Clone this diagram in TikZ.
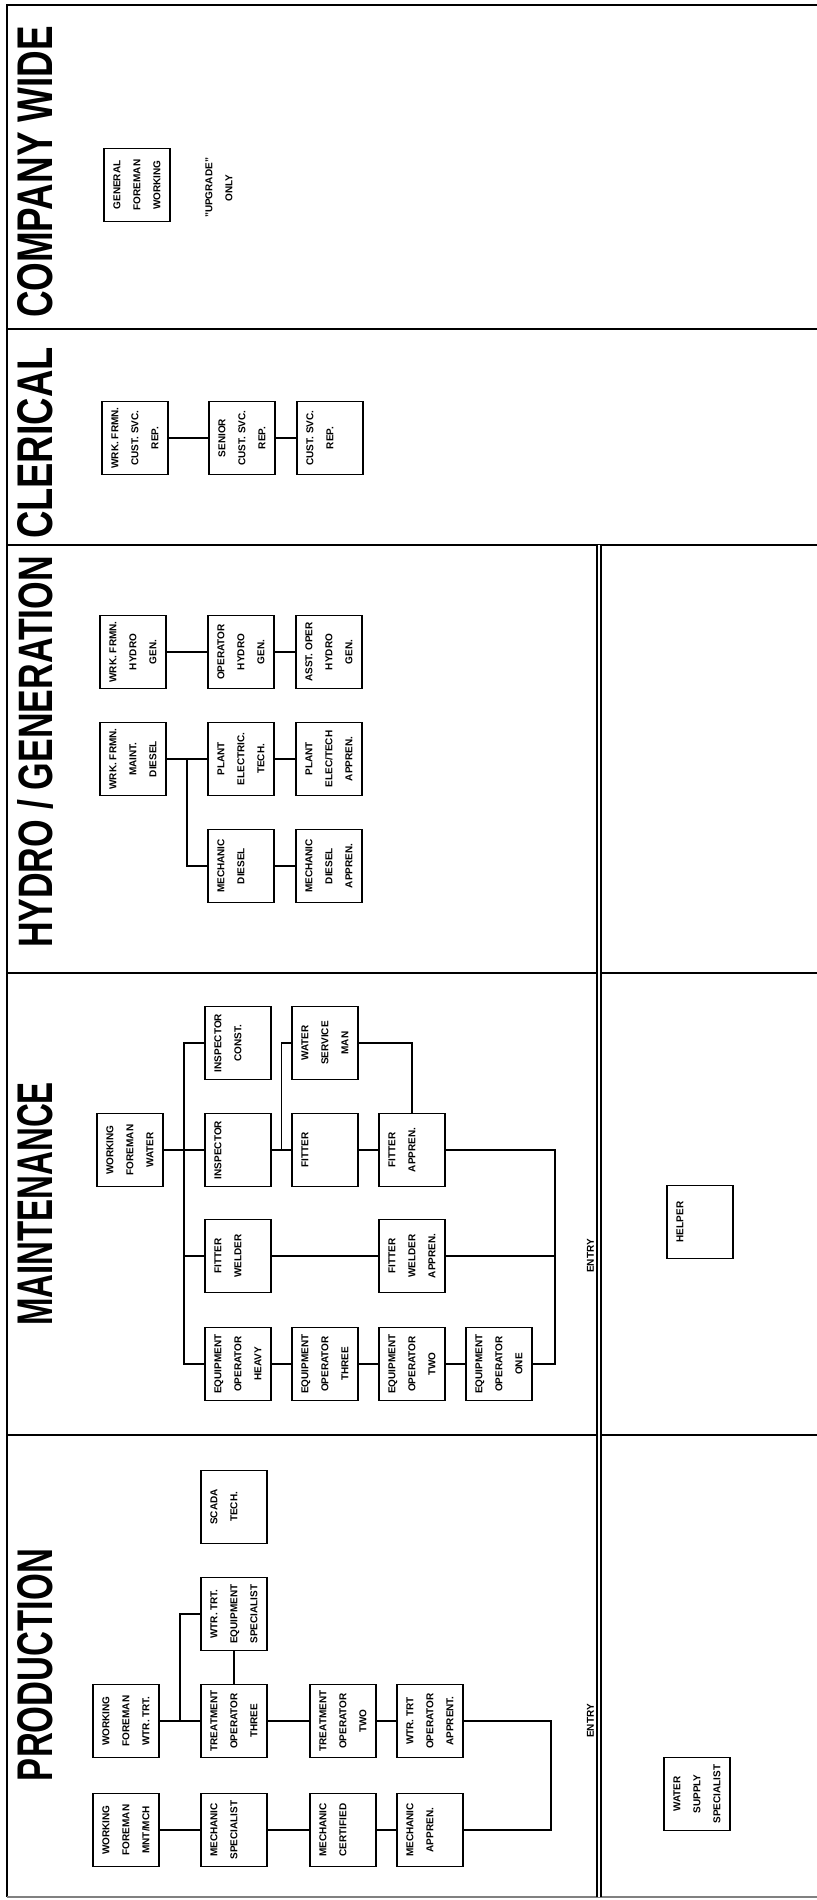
\documentclass[tikz,border=0pt]{standalone}
\usepackage{graphicx}
\usepackage{fontspec}
\setmainfont{Liberation Sans}
\usepackage{tikz}
\usetikzlibrary{calc}
\newcommand{\jobfont}{\bfseries\fontsize{5}{10}\selectfont}
\tikzset{
  job/.style={draw, line width=0.9pt, minimum width=36.5pt, minimum height=33pt, inner sep=0pt, align=center, font=\jobfont},
  heading/.style={anchor=base, inner sep=0pt, font=\bfseries},
  link/.style={line width=0.8pt},
  divider/.style={line width=1.3pt},
  entryline/.style={double, line width=0.8pt, double distance=1pt},
  entrylabel/.style={anchor=base, inner sep=0pt, font=\jobfont}
}

\begin{document}
\begin{tikzpicture}[x=0.5pt, y=0.5pt, rotate=90, transform shape]
  \useasboundingbox (0,0) rectangle (1900,817);
  % frame and section lines
  \draw[divider] (3,810) -- (1895,810) -- (1895,0);
  \draw[line width=0.6pt, black!50] (3,0) -- (3,810);
  \draw[divider] (465,810) -- (465,0);
  \draw[divider] (927,810) -- (927,0);
  \draw[divider] (1355,810) -- (1355,0);
  \draw[divider] (1571,810) -- (1571,0);
  \draw[entryline] (1355,218) -- (3,218);

  \node[heading] (prodTitle) at (235,764) {\resizebox{116pt}{17.5pt}{PRODUCTION}};
  \node[heading] (maintTitle) at (696,764) {\resizebox{122pt}{17.5pt}{MAINTENANCE}};
  \node[heading] (hydroTitle) at (1148,764) {\resizebox{196pt}{17.5pt}{HYDRO / GENERATION}};
  \node[heading] (clerTitle) at (1457,764) {\resizebox{96pt}{17.5pt}{CLERICAL}};
  \node[heading] (compTitle) at (1728,764) {\resizebox{146pt}{17.5pt}{COMPANY WIDE}};

  % production
  \node[job] (wfMech) at (70,691) {WORKING\\FOREMAN\\MNT/MCH};
  \node[job] (mechSpec) at (70,583) {MECHANIC\\SPECIALIST\\~};
  \node[job] (mechCert) at (70,474) {MECHANIC\\CERTIFIED\\~};
  \node[job] (mechApp) at (70,387) {MECHANIC\\APPREN.\\~};
  \node[job] (wfTrt) at (179,691) {WORKING\\FOREMAN\\WTR. TRT.};
  \node[job] (trtThree) at (179,583) {TREATMENT\\OPERATOR\\THREE};
  \node[job] (trtTwo) at (179,474) {TREATMENT\\OPERATOR\\TWO};
  \node[job] (trtApp) at (179,387) {WTR. TRT\\OPERATOR\\APPRENT.};
  \node[job] (eqSpec) at (286,583) {WTR. TRT.\\EQUIPMENT\\SPECIALIST};
  \node[job] (scada) at (393,583) {SCADA\\TECH.\\~};

  \draw[link] (wfMech.south) -- (mechSpec.north);
  \draw[link] (mechSpec.south) -- (mechCert.north);
  \draw[link] (mechCert.south) -- (mechApp.north);
  \draw[link] (wfTrt.south) -- (trtThree.north);
  \draw[link] (trtThree.south) -- (trtTwo.north);
  \draw[link] (trtTwo.south) -- (trtApp.north);
  \draw[link] (trtThree.east) -- (eqSpec.west);
  \coordinate (pbranch) at ($(wfTrt.south)!0.5!(trtThree.north)$);
  \draw[link] (pbranch) -| (eqSpec.north);
  \coordinate (pbrk) at ($(mechApp.south)+(0,-87)$);
  \draw[link] (trtApp.south) |- (pbrk) -- (mechApp.south);
  \node[entrylabel] (entryProd) at (179,223) {ENTRY};

  % maintenance
  \node[job] (wfWater) at (750,687) {WORKING\\FOREMAN\\WATER};
  \node[job] (insp) at (750,579) {INSPECTOR\\~\\~};
  \node[job] (fitter) at (750,492) {FITTER\\~\\~};
  \node[job] (fitterApp) at (750,405) {FITTER\\APPREN.\\~};
  \node[job] (inspConst) at (857,579) {INSPECTOR\\CONST.\\~};
  \node[job] (waterSvc) at (857,492) {WATER\\SERVICE\\MAN};
  \node[job] (fitWeld) at (644,579) {FITTER\\WELDER\\~};
  \node[job] (fitWeldApp) at (644,405) {FITTER\\WELDER\\APPREN.};
  \node[job] (eqHeavy) at (536,579) {EQUIPMENT\\OPERATOR\\HEAVY};
  \node[job] (eqThree) at (536,492) {EQUIPMENT\\OPERATOR\\THREE};
  \node[job] (eqTwo) at (536,405) {EQUIPMENT\\OPERATOR\\TWO};
  \node[job] (eqOne) at (536,318) {EQUIPMENT\\OPERATOR\\ONE};

  \coordinate (mtrunk) at ($(wfWater.south)!0.5!(insp.north)$);
  \draw[link] (wfWater.south) -- (insp.north);
  \draw[link] (inspConst.north) |- (mtrunk) -| (eqHeavy.north);
  \draw[link] (fitWeld.north) -- (fitWeld.north |- mtrunk);
  \coordinate (ibranch) at ($(insp.south)!0.5!(fitter.north)$);
  \draw[link] (insp.south) -- (fitter.north);
  \draw[link] (ibranch) -| (waterSvc.north);
  \draw[link] (fitter.south) -- (fitterApp.north);
  \draw[link] (waterSvc.south) |- (fitterApp.east);
  \draw[link] (fitWeld.south) -- (fitWeldApp.north);
  \draw[link] (eqHeavy.south) -- (eqThree.north);
  \draw[link] (eqThree.south) -- (eqTwo.north);
  \draw[link] (eqTwo.south) -- (eqOne.north);
  \coordinate (mbrk) at ($(eqOne.south)+(0,-22)$);
  \draw[link] (fitterApp.south) |- (mbrk) -- (eqOne.south);
  \draw[link] (fitWeldApp.south) -- (fitWeldApp.south |- mbrk);
  \node[entrylabel] (entryMaint) at (644,223) {ENTRY};
  \node[job] (helper) at (678,117) {HELPER\\~\\~};
  \node[job] (waterSupply) at (106,120) {WATER\\SUPPLY\\SPECIALIST};

  % hydro / generation
  \node[job] (wfHydro) at (1248,684) {WRK. FRMN.\\HYDRO\\GEN.};
  \node[job] (opHydro) at (1248,576) {OPERATOR\\HYDRO\\GEN.};
  \node[job] (asstHydro) at (1248,488) {ASST. OPER\\HYDRO\\GEN.};
  \node[job] (wfDiesel) at (1141,684) {WRK. FRMN.\\MAINT.\\DIESEL};
  \node[job] (plantElec) at (1141,576) {PLANT\\ELECTRIC.\\TECH.};
  \node[job] (plantApp) at (1141,488) {PLANT\\ELEC/TECH\\APPREN.};
  \node[job] (mechDiesel) at (1034,576) {MECHANIC\\DIESEL\\~};
  \node[job] (mechDieselApp) at (1034,488) {MECHANIC\\DIESEL\\APPREN.};

  \draw[link] (wfHydro.south) -- (opHydro.north);
  \draw[link] (opHydro.south) -- (asstHydro.north);
  \draw[link] (wfDiesel.south) -- (plantElec.north);
  \draw[link] (plantElec.south) -- (plantApp.north);
  \coordinate (hbranch) at ($(wfDiesel.south)!0.5!(plantElec.north)$);
  \draw[link] (hbranch) -| (mechDiesel.north);
  \draw[link] (mechDiesel.south) -- (mechDieselApp.north);

  % clerical
  \node[job] (wfCust) at (1462,682) {WRK. FRMN.\\CUST. SVC.\\REP.};
  \node[job] (seniorCust) at (1462,575) {SENIOR\\CUST. SVC.\\REP.};
  \node[job] (custRep) at (1462,487) {CUST. SVC.\\REP.\\~};
  \draw[link] (wfCust.south) -- (seniorCust.north);
  \draw[link] (seniorCust.south) -- (custRep.north);

  % company wide
  \node[job] (genForeman) at (1715,680) {GENERAL\\FOREMAN\\WORKING};
  \node[align=center, inner sep=0pt, font=\jobfont] (upgrade) at (1712,598) {"UPGRADE"\\ONLY};

\end{tikzpicture}
\end{document}
